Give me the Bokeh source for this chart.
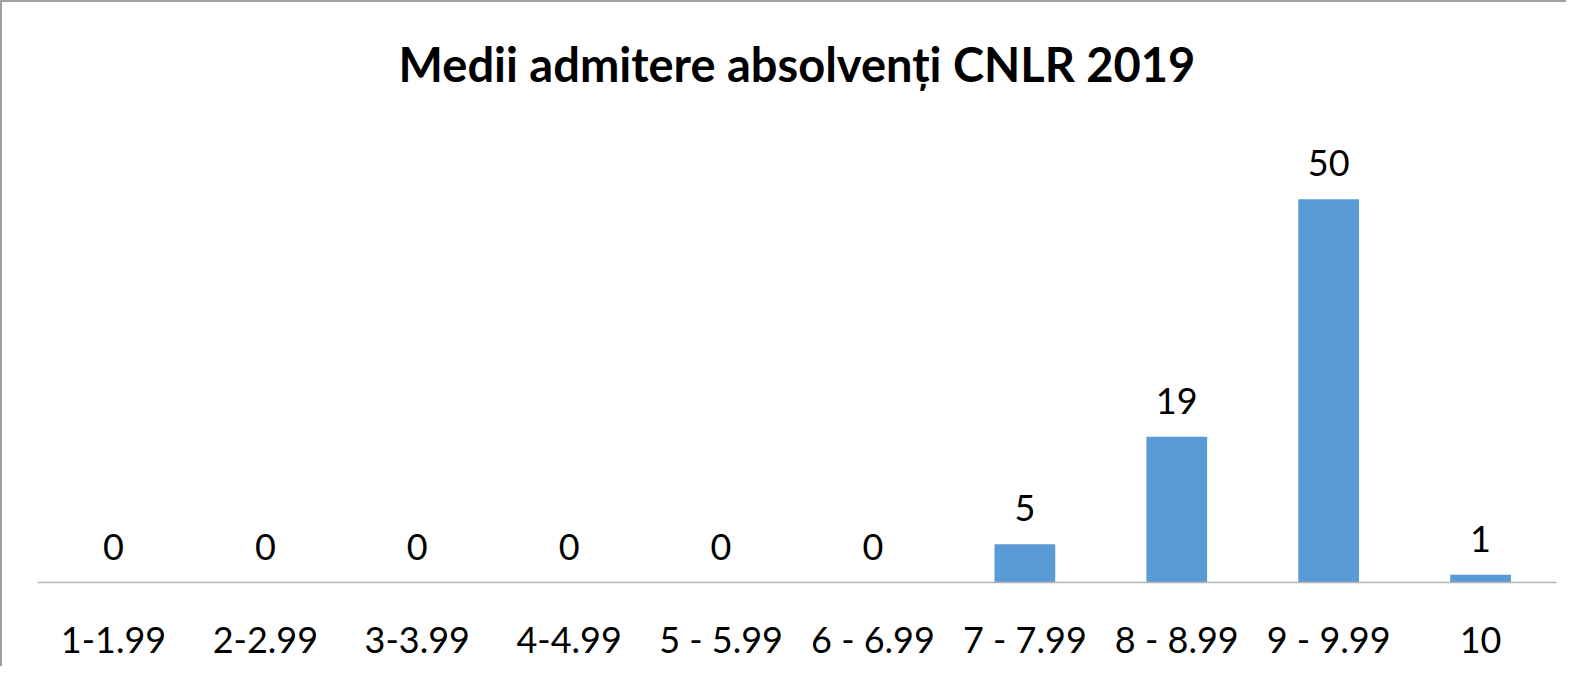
from bokeh.plotting import figure
from bokeh.models import ColumnDataSource, Range1d, FactorRange, LabelSet
from bokeh.core.properties import value
from bokeh.embed import file_html
from bokeh.resources import INLINE

categories = ["1-1.99", "2-2.99", "3-3.99", "4-4.99", "5 - 5.99", "6 - 6.99",
              "7 - 7.99", "8 - 8.99", "9 - 9.99", "10"]
counts = [0, 0, 0, 0, 0, 0, 5, 19, 50, 1]
labels = [str(c) for c in counts]

src = ColumnDataSource(dict(cat=categories, val=counts, lab=labels))

FONT = "Lato"

p = figure(width=1566, height=666, output_backend="svg", toolbar_location=None,
           x_range=FactorRange(*categories, range_padding=0),
           y_range=Range1d(0, 60),
           title="Medii admitere absolvenți CNLR 2019")
p.styles = {"border-top": "2px solid #A0A0A0", "border-left": "2px solid #A0A0A0"}

p.min_border_left = 35
p.min_border_right = 12
p.min_border_bottom = 86
p.min_border_top = 10

p.title.text_font = FONT
p.title.text_font_style = "bold"
p.title.text_font_size = "47px"
p.title.text_color = "black"
p.title.align = "center"
p.title.standoff = 62

p.vbar(x="cat", top="val", width=0.4, source=src, color="#5B9BD5", line_color=None)

p.add_layout(LabelSet(x="cat", y="val", text="lab", source=src, y_offset=23,
                      text_align="center", text_baseline="alphabetic",
                      text_font=value(FONT), text_font_size="36px", text_color="black"))

p.yaxis.visible = False
p.xgrid.grid_line_color = None
p.ygrid.grid_line_color = None
p.outline_line_color = None

ax = p.xaxis[0]
ax.axis_line_color = "#B4B4B4"
ax.axis_line_width = 1.5
ax.major_tick_line_color = None
ax.minor_tick_line_color = None
ax.major_label_text_font = FONT
ax.major_label_text_font_size = "36px"
ax.major_label_text_color = "black"
ax.major_label_standoff = 28

open("out.html", "w").write(file_html(p, INLINE))
